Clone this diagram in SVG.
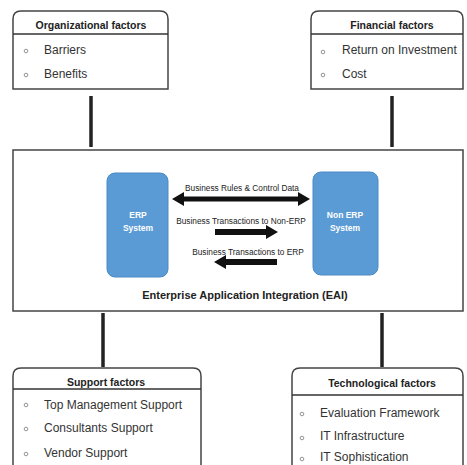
<svg xmlns="http://www.w3.org/2000/svg" width="467" height="465" viewBox="0 0 467 465">
<style>
.box{fill:#fff;stroke:#444;stroke-width:1.5}
.hdr{stroke:#333;stroke-width:1.3}
.title{font-family:"Liberation Sans",Arial,sans-serif;font-weight:bold;font-size:10.5px;fill:#222;text-anchor:middle}
.item{font-family:"Liberation Sans",Arial,sans-serif;font-size:12px;fill:#333}
.bul{fill:none;stroke:#888;stroke-width:0.9}
.conn{stroke:#222;stroke-width:3.5}
.sys{fill:#5b9bd5;stroke:#4a8ac4;stroke-width:1}
.syst{font-family:"Liberation Sans",Arial,sans-serif;font-weight:bold;font-size:8.5px;fill:#fff;text-anchor:middle}
.lbl{font-family:"Liberation Sans",Arial,sans-serif;font-size:8.3px;fill:#222;text-anchor:middle}
.arr{fill:#111}
</style>
<rect width="467" height="465" fill="#fff"/>
<g id="connectors">
<line class="conn" x1="91" y1="96" x2="91" y2="147"/>
<line class="conn" x1="392" y1="96" x2="392" y2="147"/>
<line class="conn" x1="103" y1="313" x2="103" y2="367"/>
<line class="conn" x1="382" y1="313" x2="382" y2="367"/>
</g>
<g id="organizational">
<path class="box" d="M13,89 V19 Q13,11 21,11 H160 Q168,11 168,19 V89 Z"/>
<line class="hdr" x1="13" y1="34" x2="168" y2="34"/>
<text class="title" x="91" y="29">Organizational factors</text>
<circle class="bul" cx="26" cy="51" r="1.8"/>
<text class="item" x="44" y="54">Barriers</text>
<circle class="bul" cx="26" cy="75" r="1.8"/>
<text class="item" x="44" y="78">Benefits</text>
</g>
<g id="financial">
<path class="box" d="M311,89 V19 Q311,11 319,11 H455 Q463,11 463,19 V89 Z"/>
<line class="hdr" x1="311" y1="34" x2="463" y2="34"/>
<text class="title" x="392" y="29">Financial factors</text>
<circle class="bul" cx="323" cy="52" r="1.8"/>
<text class="item" x="342" y="54">Return on Investment</text>
<circle class="bul" cx="323" cy="75" r="1.8"/>
<text class="item" x="342" y="78">Cost</text>
</g>
<g id="eai">
<rect class="box" x="13" y="150" width="450" height="161"/>
<text class="title" x="245" y="299" style="font-size:11px">Enterprise Application Integration (EAI)</text>
</g>
<g id="erp">
<rect class="sys" x="107" y="173" width="61" height="104" rx="8"/>
<text class="syst" x="138" y="218">ERP</text>
<text class="syst" x="138" y="231">System</text>
</g>
<g id="nonerp">
<rect class="sys" x="313" y="172" width="65" height="103" rx="8"/>
<text class="syst" x="345" y="218">Non ERP</text>
<text class="syst" x="345" y="231">System</text>
</g>
<g id="flows">
<polygon class="arr" points="172,199 184,192 184,196.5 298,196.5 298,192 310,199 298,206 298,201.5 184,201.5 184,206"/>
<text class="lbl" x="242" y="191">Business Rules &amp; Control Data</text>
<polygon class="arr" points="215,229 266,229 266,225 278,232 266,239 266,235 215,235"/>
<text class="lbl" x="241" y="224">Business Transactions to Non-ERP</text>
<polygon class="arr" points="277,259 226,259 226,255 214,262 226,269 226,265 277,265"/>
<text class="lbl" x="248" y="255">Business Transactions to ERP</text>
</g>
<g id="support">
<path class="box" d="M13,470 V376 Q13,368 21,368 H193 Q201,368 201,376 V470 Z"/>
<line class="hdr" x1="13" y1="389" x2="201" y2="389"/>
<text class="title" x="106" y="386">Support factors</text>
<circle class="bul" cx="26" cy="405" r="1.8"/>
<text class="item" x="44" y="409">Top Management Support</text>
<circle class="bul" cx="26" cy="429" r="1.8"/>
<text class="item" x="44" y="432">Consultants Support</text>
<circle class="bul" cx="26" cy="454" r="1.8"/>
<text class="item" x="44" y="457">Vendor Support</text>
</g>
<g id="technological">
<path class="box" d="M292,470 V376 Q292,368 300,368 H455 Q463,368 463,376 V470 Z"/>
<line class="hdr" x1="292" y1="395" x2="463" y2="395"/>
<text class="title" x="382" y="387">Technological factors</text>
<circle class="bul" cx="302" cy="414" r="1.8"/>
<text class="item" x="320" y="417">Evaluation Framework</text>
<circle class="bul" cx="302" cy="438" r="1.8"/>
<text class="item" x="320" y="440">IT Infrastructure</text>
<circle class="bul" cx="302" cy="459" r="1.8"/>
<text class="item" x="320" y="461">IT Sophistication</text>
</g>
</svg>
